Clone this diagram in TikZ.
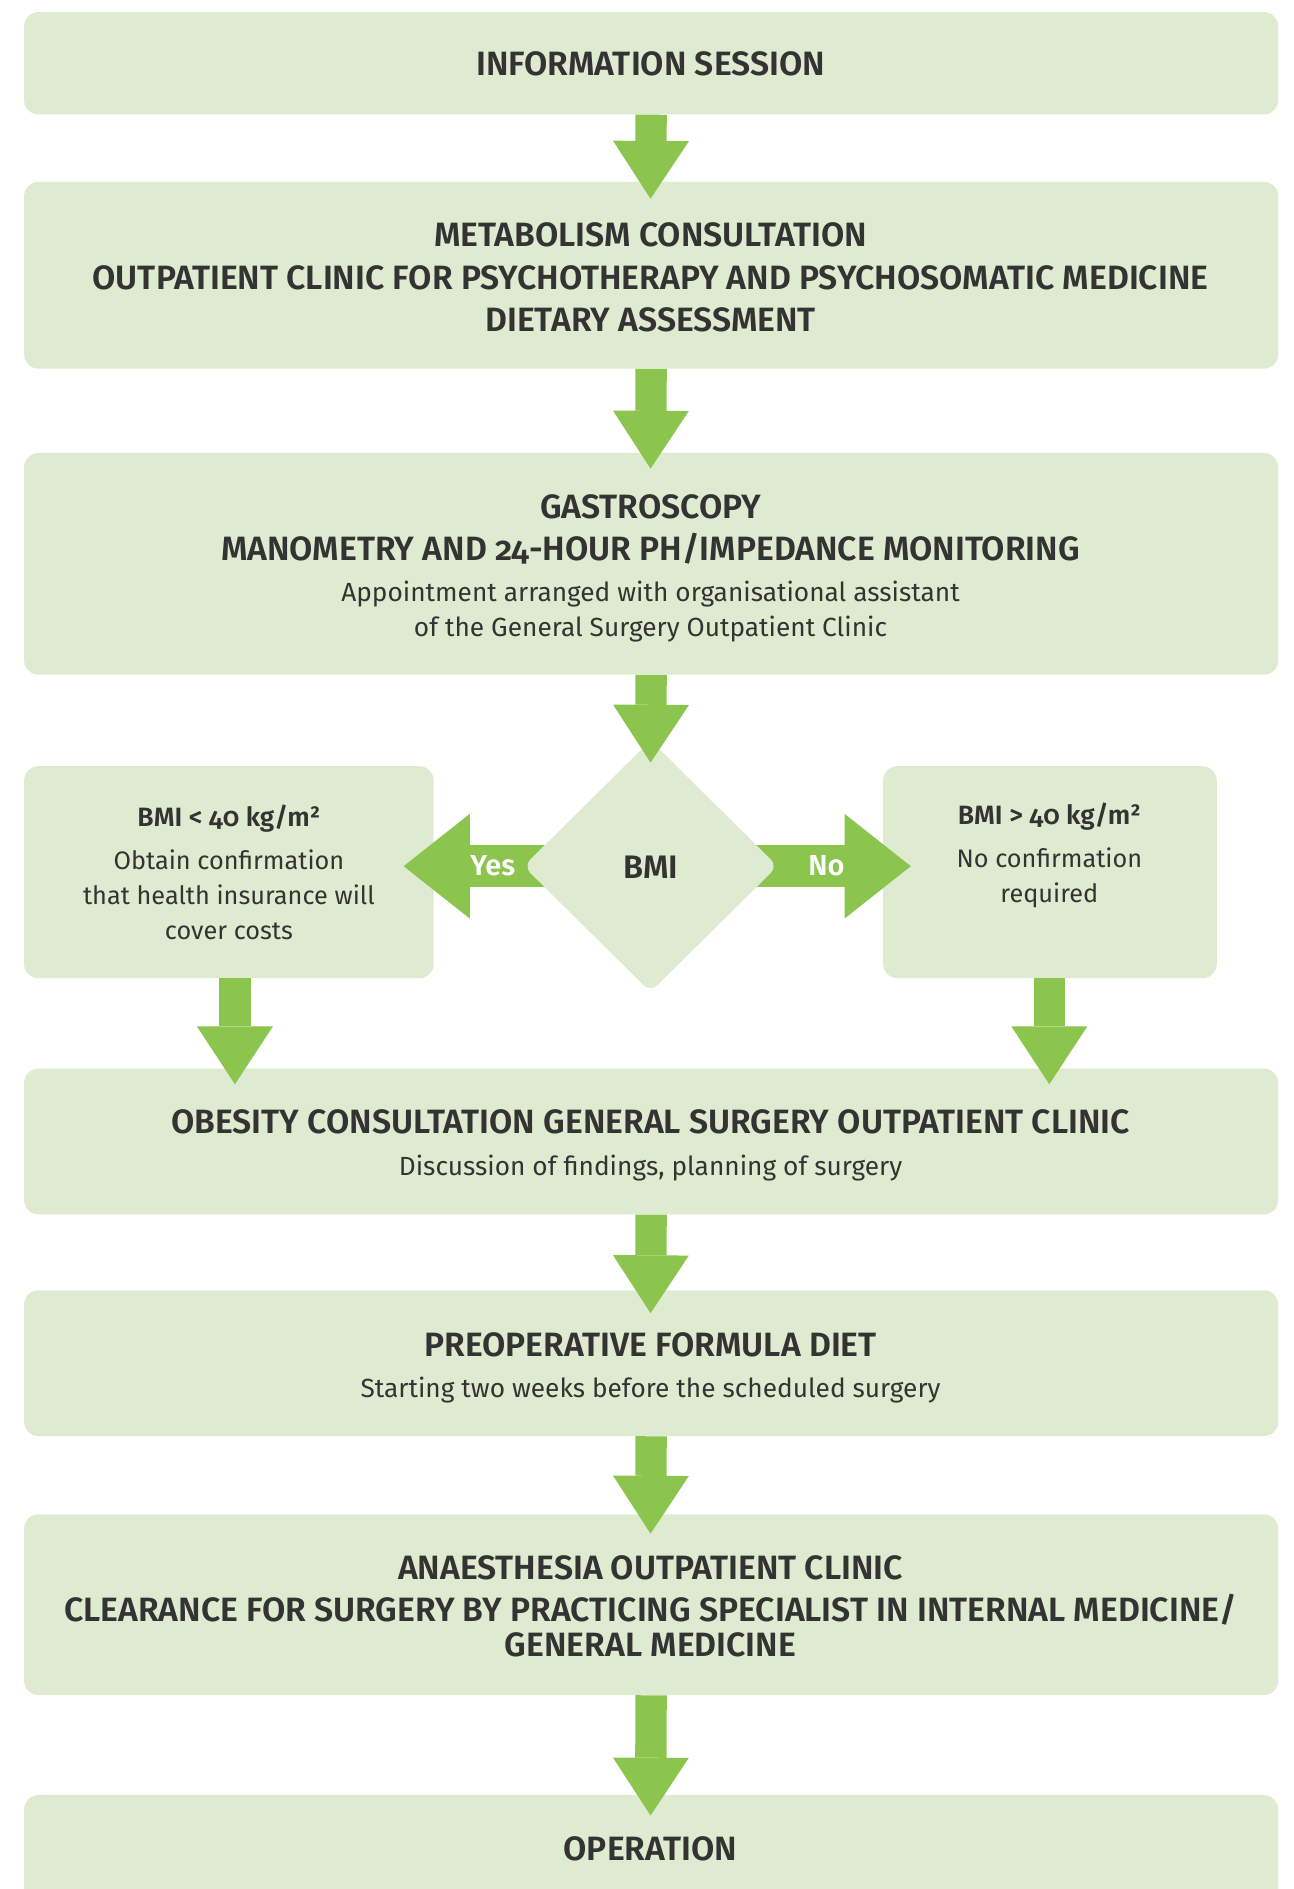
\documentclass[tikz,border=0pt]{standalone}
\usepackage{fontspec}
\setmainfont{Fira Sans}[Numbers=OldStyle, BoldFont={Fira Sans SemiBold}]
\usetikzlibrary{arrows.meta,shapes.geometric}
\definecolor{boxgreen}{RGB}{223,235,208}
\definecolor{arrowgreen}{RGB}{139,197,78}
\definecolor{txt}{RGB}{51,51,51}
\tikzset{
  box/.style={fill=boxgreen, draw=none, rounded corners=12pt, inner sep=0pt},
  hd/.style={font=\bfseries\fontsize{28}{32}\selectfont, text=txt, anchor=base, inner sep=0pt},
  sh/.style={font=\bfseries\fontsize{22}{26}\selectfont, text=txt, anchor=base, inner sep=0pt},
  rg/.style={font=\fontsize{21.8}{26}\selectfont, text=txt, anchor=base, inner sep=0pt},
  srg/.style={font=\fontsize{21}{25}\selectfont, text=txt, anchor=base, inner sep=0pt},
  lbl/.style={font=\bfseries\fontsize{24}{28}\selectfont, text=white, anchor=base, inner sep=0pt},
  varrow/.style={draw=arrowgreen, line width=26pt, -{Triangle[width=63pt,length=48pt,line width=0pt]}},
  harrow/.style={draw=arrowgreen, line width=35pt, -{Triangle[width=87pt,length=55pt,line width=0pt]}},
}
\begin{document}
\begin{tikzpicture}[x=1pt,y=-1pt]
\useasboundingbox (0,0) rectangle (1074,1568);
\clip (0,0) rectangle (1074,1568);
% boxes
\node[box, minimum width=1041pt, minimum height=85pt] (b1) at (540.5,52.5) {};
\node[box, minimum width=1041pt, minimum height=155pt] (b2) at (540.5,228.5) {};
\node[box, minimum width=1041pt, minimum height=184pt] (b3) at (540.5,468) {};
\node[box, minimum width=340pt, minimum height=176pt] (lb) at (190,724) {};
\node[box, minimum width=277pt, minimum height=176pt] (rb) at (871.5,724) {};
\node[box, minimum width=1041pt, minimum height=121pt] (ob) at (540.5,947.5) {};
\node[box, minimum width=1041pt, minimum height=121pt] (pre) at (540.5,1131.5) {};
\node[box, minimum width=1041pt, minimum height=150pt] (an) at (540.5,1332) {};
\node[box, minimum width=1041pt, minimum height=120pt] (op) at (540.5,1550) {};
% texts
\node[hd] (t1) at (540,63) {INFORMATION SESSION};
\node[hd] (t2a) at (540,205) {METABOLISM CONSULTATION};
\node[hd] (t2b) at (540,240) {OUTPATIENT CLINIC FOR PSYCHOTHERAPY AND PSYCHOSOMATIC MEDICINE};
\node[hd] (t2c) at (540,275) {DIETARY ASSESSMENT};
\node[hd] (t3a) at (540,430) {GASTROSCOPY};
\node[hd] (t3b) at (540,465) {MANOMETRY AND 24-HOUR PH/IMPEDANCE MONITORING};
\node[rg] (t3c) at (540,499) {Appointment arranged with organisational assistant};
\node[rg] (t3d) at (540,528) {of the General Surgery Outpatient Clinic};
\node[sh] (tla) at (190,686) {BMI < 40 kg/m²};
\node[srg] (tlb) at (190,722) {Obtain confirmation};
\node[srg] (tlc) at (190,751) {that health insurance will};
\node[srg] (tld) at (190,780) {cover costs};
\node[sh] (tra) at (871,684) {BMI > 40 kg/m²};
\node[srg] (trb) at (871,720) {No confirmation};
\node[srg] (trc) at (871,749) {required};
\node[hd] (toa) at (540,941) {OBESITY CONSULTATION GENERAL SURGERY OUTPATIENT CLINIC};
\node[rg] (tob) at (540,976) {Discussion of findings, planning of surgery};
\node[hd] (tpa) at (540,1126) {PREOPERATIVE FORMULA DIET};
\node[rg] (tpb) at (540,1160) {Starting two weeks before the scheduled surgery};
\node[hd] (taa) at (540,1311) {ANAESTHESIA OUTPATIENT CLINIC};
\node[hd] (tab) at (540,1346) {CLEARANCE FOR SURGERY BY PRACTICING SPECIALIST IN INTERNAL MEDICINE/};
\node[hd] (tac) at (540,1375) {GENERAL MEDICINE};
\node[hd] (top) at (540,1544) {OPERATION};
% decision
\coordinate (dc) at (540,719);
\coordinate (ytip) at (335,719);
\coordinate (ntip) at (756,719);
\draw[harrow] (dc) -- (ytip);
\draw[harrow] (dc) -- (ntip);
\node[lbl] (yes) at (409,727) {Yes};
\node[lbl] (no) at (686,727) {No};
\node[diamond, fill=boxgreen, draw=none, inner sep=0pt, minimum width=211pt, minimum height=209pt, rounded corners=8pt] (d) at (dc) {};
\node[hd, font=\bfseries\fontsize{27}{30}\selectfont] (dt) at (540,729) {BMI};
% vertical arrows
\coordinate (a1) at (540,165);
\coordinate (a2) at (540,389);
\coordinate (a3) at (540,633);
\coordinate (al) at (195,900);
\coordinate (ar) at (871,900);
\coordinate (a4) at (540,1090);
\coordinate (a5) at (540,1273);
\coordinate (a6) at (540,1507);
\draw[varrow] (b1.south) -- (a1);
\draw[varrow] (b2.south) -- (a2);
\draw[varrow] (b3.south) -- (a3);
\draw[varrow] (lb.south -| al) -- (al);
\draw[varrow] (rb.south -| ar) -- (ar);
\draw[varrow] (ob.south) -- (a4);
\draw[varrow] (pre.south) -- (a5);
\draw[varrow] (an.south) -- (a6);
\end{tikzpicture}
\end{document}
